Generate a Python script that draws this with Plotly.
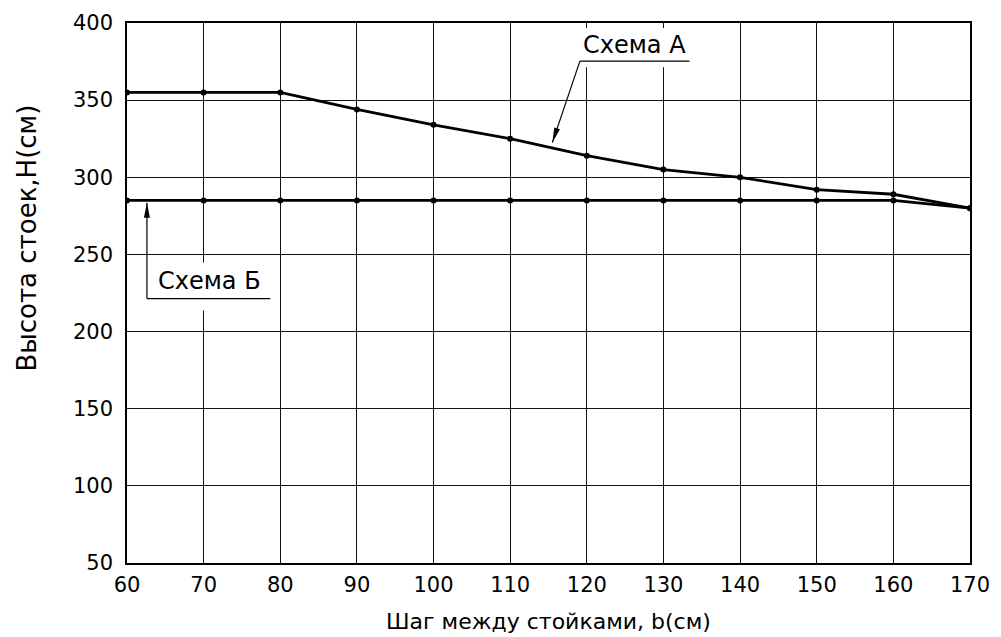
import math
import plotly.graph_objects as go

# Шаг между стойками, см
spacing = [60, 70, 80, 90, 100, 110, 120, 130, 140, 150, 160, 170]
# Высота стоек, см
height_a = [355, 355, 355, 344, 334, 325, 314, 305, 300, 292, 289, 280]
height_b = [285, 285, 285, 285, 285, 285, 285, 285, 285, 285, 285, 280]

x_ticks = [60, 70, 80, 90, 100, 110, 120, 130, 140, 150, 160, 170]
y_ticks = [50, 100, 150, 200, 250, 300, 350, 400]

FONT = "DejaVu Sans"
INK = "black"

W, H = 1001, 637
M = dict(l=127, r=31, t=23, b=74)
X_RANGE = [60, 170]
Y_RANGE = [50, 400]
PX_X = (W - M["l"] - M["r"]) / (X_RANGE[1] - X_RANGE[0])   # pixels per data unit
PX_Y = (H - M["t"] - M["b"]) / (Y_RANGE[1] - Y_RANGE[0])

fig = go.Figure()
for ys in (height_b, height_a):
    fig.add_trace(go.Scatter(
        x=spacing, y=ys, mode="lines+markers",
        line=dict(color=INK, width=2.8),
        marker=dict(color=INK, size=6),
        showlegend=False, hoverinfo="skip",
    ))

axis_common = dict(
    showgrid=True, gridcolor="#111", gridwidth=1,
    showline=True, linecolor=INK, linewidth=1.5, mirror=True,
    ticks="", zeroline=False,
    tickfont=dict(family=FONT, size=21, color=INK),
)
fig.update_xaxes(range=X_RANGE, tickvals=x_ticks, ticklabelstandoff=2, **axis_common)
fig.update_yaxes(range=Y_RANGE, tickvals=y_ticks, ticklabelstandoff=8, **axis_common)


def arrow_head(tail, tip, length=15, half_w=3):
    """Narrow filled arrowhead as an SVG path in data coordinates."""
    dx = (tip[0] - tail[0]) * PX_X
    dy = -(tip[1] - tail[1]) * PX_Y
    n = math.hypot(dx, dy)
    ux, uy = dx / n, dy / n
    bx, by = -ux * length, -uy * length
    px, py = -uy * half_w, ux * half_w
    pts = [(0, 0), (bx + px, by + py), (bx - px, by - py)]
    coords = [(tip[0] + ox / PX_X, tip[1] - oy / PX_Y) for ox, oy in pts]
    return "M{} L{} L{} Z".format(*[f"{a:.4f},{b:.4f}" for a, b in coords])


tail_a, tip_a = (119.1, 375.3), (115.5, 322.5)
tail_b, tip_b = (62.6, 221.4), (62.6, 283.5)

shapes = [
    # white gaps in the grid behind the callout labels
    dict(type="rect", xref="x", yref="y", x0=118.2, x1=134.8, y0=371.4, y1=396.8,
         fillcolor="white", line=dict(width=0), layer="between"),
    dict(type="rect", xref="x", yref="y", x0=63.0, x1=78.4, y0=213.6, y1=244.8,
         fillcolor="white", line=dict(width=0), layer="between"),
    # underlines of the callouts
    dict(type="line", xref="x", yref="y", x0=119.1, x1=133.4, y0=375.3, y1=375.3,
         line=dict(color=INK, width=1.2), layer="above"),
    dict(type="line", xref="x", yref="y", x0=62.6, x1=78.7, y0=221.4, y1=221.4,
         line=dict(color=INK, width=1.2), layer="above"),
]
for tail, tip in ((tail_a, tip_a), (tail_b, tip_b)):
    shapes.append(dict(type="line", xref="x", yref="y", x0=tail[0], y0=tail[1],
                       x1=tip[0], y1=tip[1], line=dict(color=INK, width=1.2),
                       layer="above"))
    shapes.append(dict(type="path", xref="x", yref="y", path=arrow_head(tail, tip),
                       fillcolor=INK, line=dict(width=0), layer="above"))
fig.update_layout(shapes=shapes)

label_font = dict(family=FONT, size=24, color=INK)
annotations = [
    dict(x=126.2, y=385.5, xref="x", yref="y", text="Схема А", showarrow=False,
         font=label_font, xanchor="center", yanchor="middle"),
    dict(x=70.7, y=232.5, xref="x", yref="y", text="Схема Б", showarrow=False,
         font=label_font, xanchor="center", yanchor="middle"),
    dict(x=0.5, y=-0.109, xref="paper", yref="paper", text="Шаг между стойками, b(см)",
         showarrow=False, font=dict(family=FONT, size=22, color=INK),
         xanchor="center", yanchor="middle"),
    dict(x=-0.119, y=0.602, xref="paper", yref="paper", text="Высота стоек,Н(см)",
         showarrow=False, textangle=-90, font=dict(family=FONT, size=26, color=INK),
         xanchor="center", yanchor="middle"),
]
fig.update_layout(annotations=annotations)

fig.update_layout(
    width=W, height=H,
    margin=M,
    paper_bgcolor="white", plot_bgcolor="white",
)

fig.write_html("out.html")
